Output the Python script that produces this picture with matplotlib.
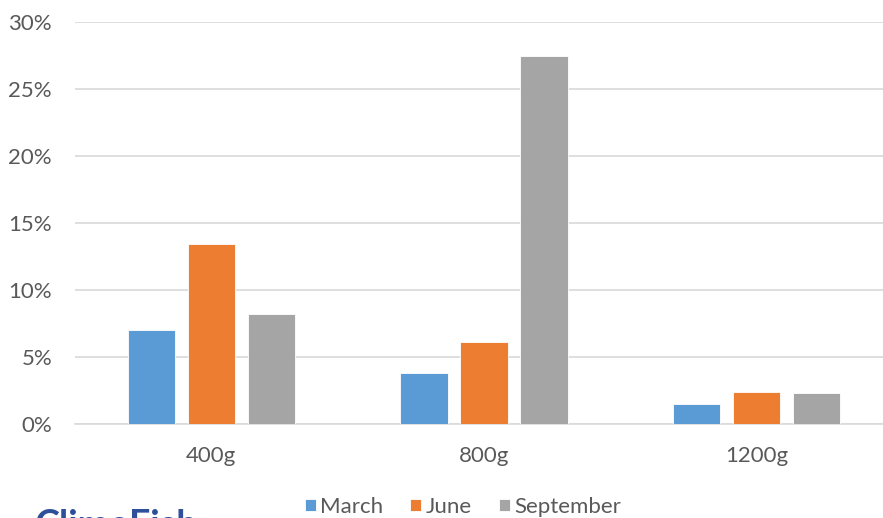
import matplotlib.pyplot as plt
import numpy as np
from matplotlib.ticker import PercentFormatter

# data
categories = ['400g', '800g', '1200g']
march = [7.0, 3.8, 1.5]
june = [13.4, 6.1, 2.4]
september = [8.2, 27.5, 2.3]
series_names = ['March', 'June', 'September']
colors = ['#5b9bd5', '#ed7d31', '#a5a5a5']

plt.rcParams['font.family'] = ['Lato', 'DejaVu Sans']

fig = plt.figure(figsize=(8.83, 5.18), dpi=100)
# chart is cropped on the right in the reference, so axes run past the edge
ax = fig.add_axes([75 / 883, (518 - 424) / 518, 818 / 883, 402 / 518])

x = np.arange(len(categories))
width = 0.173
step = 0.22
for i, (vals, name) in enumerate(zip([march, june, september], series_names)):
    ax.bar(x + (i - 1) * step, vals, width, color=colors[i], label=name,
           edgecolor='white', linewidth=0.6, zorder=3)

ax.set_xlim(-0.5, 2.5)
ax.set_ylim(0, 30)
ax.set_yticks(np.arange(0, 31, 5))
ax.yaxis.set_major_formatter(PercentFormatter(decimals=0))
ax.set_xticks(x)
ax.set_xticklabels(categories)
ax.grid(axis='y', color='#d9d9d9', linewidth=1.2, zorder=0)
for s in ['top', 'right', 'left']:
    ax.spines[s].set_visible(False)
ax.spines['bottom'].set_color('#d9d9d9')
ax.spines['bottom'].set_linewidth(1.2)
ax.tick_params(length=0, labelsize=16, colors='#595959')
ax.tick_params(axis='y', pad=16.5)
ax.tick_params(axis='x', pad=16)

fig.legend(loc='center', bbox_to_anchor=(463 / 883, (518 - 507) / 518),
           ncol=3, frameon=False, fontsize=16, labelcolor='#595959',
           handlelength=0.5, handleheight=0.5, handletextpad=0.2,
           columnspacing=1.2, borderpad=0.2)

# partially visible watermark at the bottom
fig.text(35 / 883, (518 - 509) / 518, 'ClimeFish', va='top', ha='left',
         fontsize=27, fontweight='bold', color='#2e4f9a')

fig.savefig('out.png', dpi=100)
